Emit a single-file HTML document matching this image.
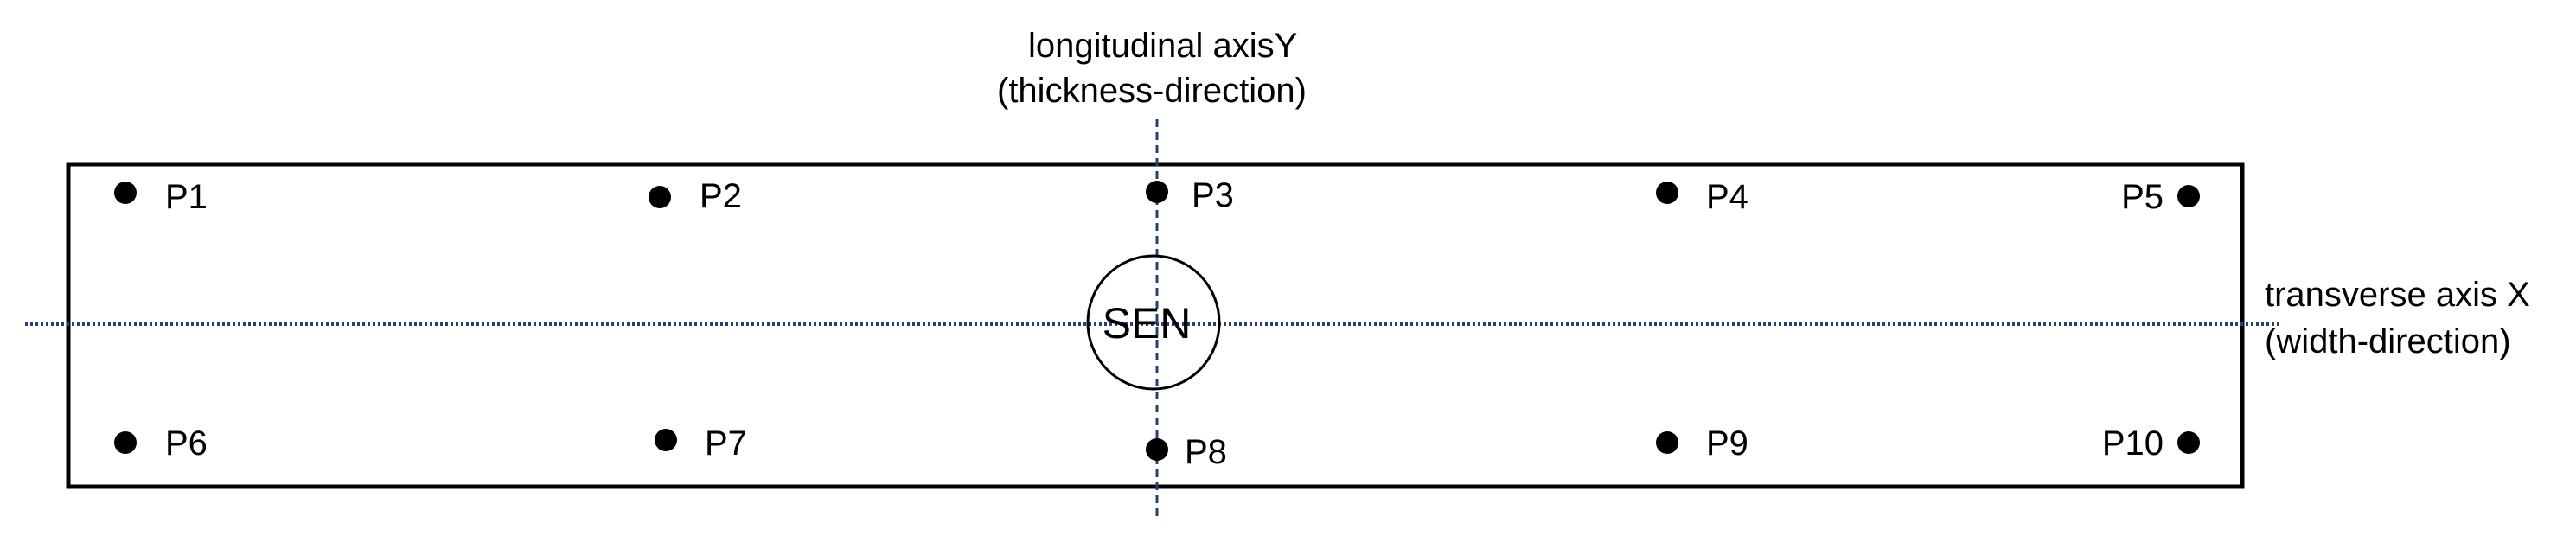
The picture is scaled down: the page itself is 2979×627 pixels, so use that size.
<!DOCTYPE html>
<html><head><meta charset="utf-8"><style>
html,body{margin:0;padding:0;background:#fff;}
svg{display:block;}
text{font-family:"Liberation Sans",Arial,sans-serif;fill:#000;}
</style></head><body>
<svg width="2979" height="627" viewBox="0 0 2979 627" xmlns="http://www.w3.org/2000/svg">
<rect x="79" y="190" width="2514" height="373" fill="none" stroke="#000" stroke-width="5"/>
<line x1="29" y1="375" x2="2638" y2="375" stroke="#24407a" stroke-width="4" stroke-dasharray="3,3"/>
<line x1="1338" y1="138" x2="1338" y2="598" stroke="#24407a" stroke-width="3" stroke-dasharray="9,6"/>
<ellipse cx="1334" cy="373" rx="76" ry="77" fill="none" stroke="#000" stroke-width="3"/>
<text x="1326" y="391" font-size="50" text-anchor="middle">SEN</text>
<g fill="#000">
<circle cx="145" cy="223" r="13"/>
<circle cx="763" cy="228" r="13"/>
<circle cx="1338" cy="222" r="13"/>
<circle cx="1928" cy="223" r="13"/>
<circle cx="2531" cy="227" r="13"/>
<circle cx="145" cy="512" r="13"/>
<circle cx="770" cy="509" r="13"/>
<circle cx="1338" cy="520" r="13"/>
<circle cx="1928" cy="512" r="13"/>
<circle cx="2531" cy="512" r="13"/>
</g>
<g font-size="40">
<text x="191" y="241">P1</text>
<text x="809" y="240">P2</text>
<text x="1378" y="239">P3</text>
<text x="1973" y="241">P4</text>
<text x="2502" y="241" text-anchor="end">P5</text>
<text x="191" y="526">P6</text>
<text x="815" y="526">P7</text>
<text x="1370" y="536">P8</text>
<text x="1973" y="526">P9</text>
<text x="2502" y="526" text-anchor="end">P10</text>
<text x="1189" y="66">longitudinal axisY</text>
<text x="1153" y="118">(thickness-direction)</text>
<text x="2619" y="354">transverse axis X</text>
<text x="2619" y="408">(width-direction)</text>
</g>
</svg>
</body></html>
